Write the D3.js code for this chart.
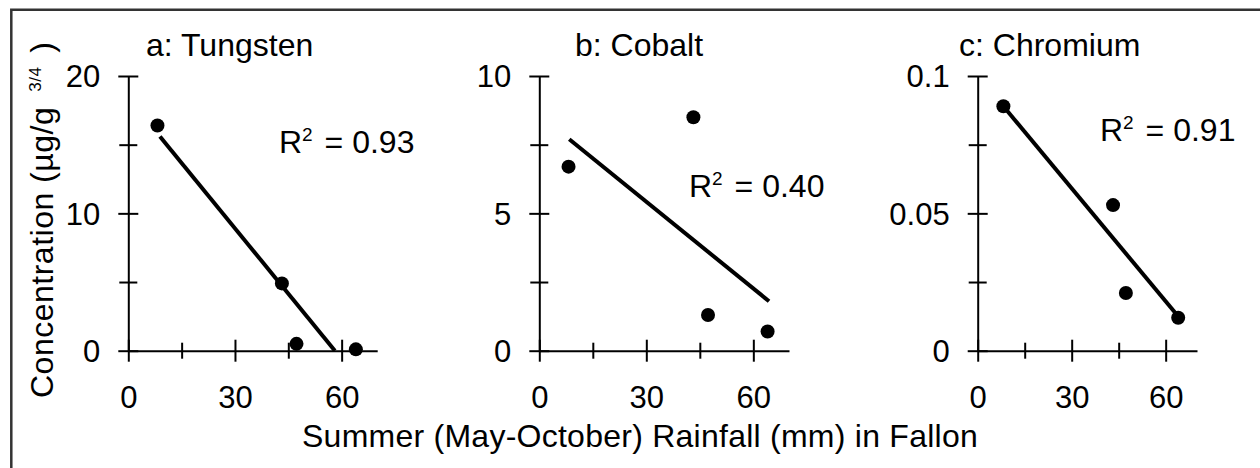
<!DOCTYPE html>
<html><head><meta charset="utf-8">
<script src="https://cdn.jsdelivr.net/npm/d3@7"></script>
<style>
html,body{margin:0;padding:0;background:#fff;}
svg{display:block;}
text{font-family:"Liberation Sans",Arial,Helvetica,sans-serif;fill:#000;}
</style>
</head><body>
<svg id="chart" width="1260" height="468"></svg>
<script>
// ---- data ----
const rainfall = [8.2, 43.2, 47.3, 64.0];
const tungsten = [16.4, 4.9, 0.5, 0.1];
const cobalt = [6.7, 8.5, 1.3, 0.7];
const chromium = [0.089, 0.053, 0.021, 0.012];
const tungstenFit = [[8.9, 15.6], [58.1, 0]];
const cobaltFit = [[8.4, 7.7], [64.4, 1.8]];
const chromiumFit = [[9.2, 0.0876], [64.5, 0.0118]];
const panelTitles = ["a: Tungsten", "b: Cobalt", "c: Chromium"];
const rSquared = ["0.93", "0.40", "0.91"];
const xMajorTicks = [0, 30, 60];
const xMinorTicks = [15, 45];
const yMajorTungsten = [0, 10, 20], yMinorTungsten = [5, 15];
const yMajorCobalt = [0, 5, 10], yMinorCobalt = [2.5, 7.5];
const yMajorChromium = [0, 0.05, 0.1], yMinorChromium = [0.025, 0.075];
const xLabel = "Summer (May-October) Rainfall (mm) in Fallon";
const yLabelMain = "Concentration (µg/g";
const yLabelSup = "3/4";

// ---- layout ----
const svg = d3.select("#chart");
const yBottom = 350.7, yTop = 76;
const panels = [
  {values: tungsten, fit: tungstenFit, yMax: 20, yMajor: yMajorTungsten, yMinor: yMinorTungsten,
   x0: 128.3, x1: 377.2, title: panelTitles[0], titleX: 146, r2: rSquared[0], r2X: 279, r2Y: 153},
  {values: cobalt, fit: cobaltFit, yMax: 10, yMajor: yMajorCobalt, yMinor: yMinorCobalt,
   x0: 539.3, x1: 789, title: panelTitles[1], titleX: 575, r2: rSquared[1], r2X: 689, r2Y: 196.7},
  {values: chromium, fit: chromiumFit, yMax: 0.1, yMajor: yMajorChromium, yMinor: yMinorChromium,
   x0: 977.7, x1: 1197, title: panelTitles[2], titleX: 959, r2: rSquared[2], r2X: 1100, r2Y: 140.7}
];

// frame
svg.append("path")
  .attr("d", "M11.3,468V9.7H1260")
  .attr("fill", "none").attr("stroke", "#333").attr("stroke-width", 2.5);

panels.forEach(p => {
  const x = d3.scaleLinear().domain([0, 70]).range([p.x0, p.x1]);
  const y = d3.scaleLinear().domain([0, p.yMax]).range([yBottom, yTop]);
  const g = svg.append("g");

  // x axis
  const xa = g.append("g").attr("transform", `translate(0,${yBottom})`)
    .call(d3.axisBottom(x).tickValues(xMajorTicks.concat(xMinorTicks)).tickSizeOuter(0)
      .tickFormat(d => xMajorTicks.includes(d) ? String(d) : ""));
  xa.select(".domain").attr("stroke", "#000").attr("stroke-width", 2);
  xa.selectAll(".tick line").attr("stroke", "#000").attr("stroke-width", 2)
    .attr("y1", d => xMajorTicks.includes(d) ? -11 : -8)
    .attr("y2", d => xMajorTicks.includes(d) ? 11 : 8);
  xa.selectAll(".tick text").attr("y", 57).attr("dy", 0)
    .style("font-size", "31px").attr("fill", "#000");

  // y axis
  const ya = g.append("g").attr("transform", `translate(${p.x0},0)`)
    .call(d3.axisLeft(y).tickValues(p.yMajor.concat(p.yMinor)).tickSizeOuter(0)
      .tickFormat(d => p.yMajor.includes(d) ? String(d) : ""));
  ya.select(".domain").attr("stroke", "#000").attr("stroke-width", 2);
  ya.selectAll(".tick line").attr("stroke", "#000").attr("stroke-width", 2)
    .attr("x1", d => p.yMajor.includes(d) ? -10 : -9)
    .attr("x2", d => p.yMajor.includes(d) ? 10 : 9);
  ya.selectAll(".tick text").attr("x", -28).attr("dy", "0.35em")
    .style("font-size", "31px").attr("fill", "#000");
  g.selectAll(".tick text").attr("font-family", null);

  // fit line
  g.append("path")
    .attr("d", d3.line().x(d => x(d[0])).y(d => y(d[1]))(p.fit))
    .attr("fill", "none").attr("stroke", "#000").attr("stroke-width", 4);

  // points
  g.selectAll("circle.pt").data(rainfall.map((r, i) => [r, p.values[i]]))
    .join("circle").attr("class", "pt")
    .attr("cx", d => x(d[0])).attr("cy", d => y(d[1])).attr("r", 7).attr("fill", "#000");

  // title
  g.append("text").attr("x", p.titleX).attr("y", 56).style("font-size", "32px").text(p.title);

  // R^2
  const t = g.append("text").attr("x", p.r2X).attr("y", p.r2Y).style("font-size", "32px");
  t.append("tspan").text("R");
  t.append("tspan").attr("dy", -11.6).style("font-size", "19px").text("2");
  t.append("tspan").attr("dy", 11.6).attr("dx", 3).text(" = " + p.r2);
});

// x label
svg.append("text").attr("x", 640).attr("y", 447).attr("text-anchor", "middle")
  .style("font-size", "32px").style("letter-spacing", "0.25px").text(xLabel);

// y label
const yl = svg.append("text").attr("transform", "translate(53,398) rotate(-90)")
  .style("font-size", "32px").style("letter-spacing", "0.5px");
yl.append("tspan").text(yLabelMain);
yl.append("tspan").attr("dx", 15).attr("dy", -12).style("font-size", "17px").text(yLabelSup);
yl.append("tspan").attr("dx", 14).attr("dy", 12).text(")");
</script>
</body></html>
